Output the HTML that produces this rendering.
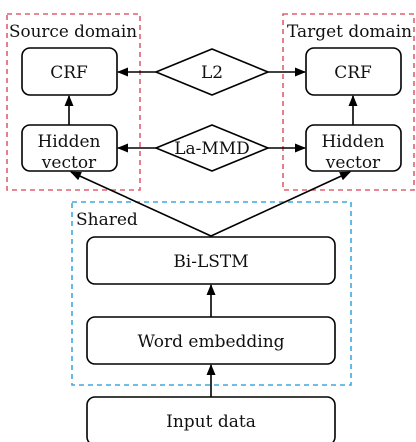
<!DOCTYPE html>
<html><head><meta charset="utf-8"><style>
html,body{margin:0;padding:0;background:#fff;}
svg{display:block;}
text{font-family:"DejaVu Serif","Liberation Serif",serif;font-size:17px;fill:#111;}
</style></head><body>
<svg width="416" height="442" viewBox="0 0 416 442" xmlns="http://www.w3.org/2000/svg">
<defs>
<marker id="a" markerWidth="11" markerHeight="9" refX="10" refY="4.5" orient="auto" markerUnits="userSpaceOnUse">
<path d="M0,0 L11,4.5 L0,9 z" fill="#000"/>
</marker>
</defs>
<g fill="none" stroke-width="1.6" stroke-dasharray="5,4">
<rect x="7" y="14" width="133" height="176" stroke="#e06070"/>
<rect x="283" y="14" width="131" height="176" stroke="#e06070"/>
<rect x="72" y="202" width="279" height="183" stroke="#40a8e0"/>
</g>
<text x="9" y="37" textLength="128" lengthAdjust="spacingAndGlyphs">Source domain</text>
<text x="287" y="37" textLength="125" lengthAdjust="spacingAndGlyphs">Target domain</text>
<text x="76" y="225">Shared</text>
<g fill="#fff" stroke="#000" stroke-width="1.6">
<rect x="22" y="48" width="95" height="47" rx="8"/>
<rect x="22" y="125" width="95" height="46" rx="8"/>
<rect x="306" y="48" width="95" height="47" rx="8"/>
<rect x="306" y="125" width="95" height="46" rx="8"/>
<rect x="87" y="237" width="248" height="47" rx="8"/>
<rect x="87" y="317" width="248" height="47" rx="8"/>
<rect x="87" y="397" width="248" height="48" rx="8"/>
<polygon points="156,72 212,49 268,72 212,95"/>
<polygon points="156,148 212,125 268,148 212,171"/>
</g>
<g stroke="#000" stroke-width="1.6" fill="none" marker-end="url(#a)">
<line x1="156" y1="72" x2="118" y2="72"/>
<line x1="268" y1="72" x2="305" y2="72"/>
<line x1="156" y1="148" x2="118" y2="148"/>
<line x1="268" y1="148" x2="305" y2="148"/>
<line x1="69" y1="125" x2="69" y2="96"/>
<line x1="353" y1="125" x2="353" y2="96"/>
<line x1="211" y1="236" x2="71" y2="172"/>
<line x1="211" y1="236" x2="350" y2="172"/>
<line x1="211" y1="317" x2="211" y2="285"/>
<line x1="211" y1="397" x2="211" y2="365"/>
</g>
<g text-anchor="middle">
<text x="69" y="78">CRF</text>
<text x="353" y="78">CRF</text>
<text x="212" y="78">L2</text>
<text x="212" y="154">La-MMD</text>
<text x="69" y="147">Hidden</text>
<text x="69" y="168">vector</text>
<text x="353" y="147">Hidden</text>
<text x="353" y="168">vector</text>
<text x="211" y="267">Bi-LSTM</text>
<text x="211" y="347">Word embedding</text>
<text x="211" y="427">Input data</text>
</g>
</svg>
</body></html>
